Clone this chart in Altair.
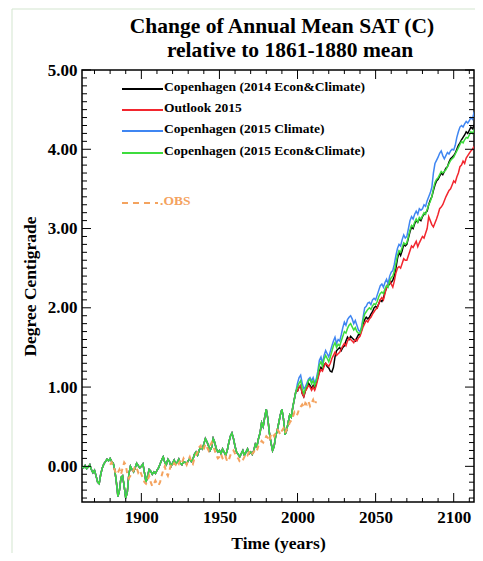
import altair as alt
import pandas as pd

# ---------------- data ----------------
title_lines = ["Change of Annual Mean SAT (C)", "relative to 1861-1880 mean"]
series_names = [
    "Copenhagen (2014 Econ&Climate)",
    "Outlook 2015",
    "Copenhagen (2015 Climate)",
    "Copenhagen (2015 Econ&Climate)",
]
series_colors = ["#000000", "#f2262e", "#3f86f2", "#3ddc3d"]
obs_name = ".OBS"
obs_color = "#f4a35f"

# shared model history 1862-1999
hist_years = list(range(1862, 2000))
hist_vals = [
    0.00, -0.02, 0.01, -0.03, -0.01, 0.02, -0.04, -0.08,
    -0.05, -0.12, -0.20, -0.22, -0.10, -0.02, 0.03, 0.06, 0.09, 0.07,
    0.10, 0.06, 0.04, -0.05, -0.20, -0.38, -0.30, -0.14, -0.12, -0.25,
    -0.40, -0.33, -0.10, 0.00, -0.04, -0.07, -0.02, 0.04, 0.01, -0.02,
    0.00, 0.03, -0.08, -0.20, -0.12, -0.04, -0.06, -0.10, -0.07, -0.09,
    -0.05, -0.02, 0.03, 0.08, 0.12, 0.05, 0.02, 0.09, 0.06, 0.00,
    0.04, 0.08, 0.03, 0.05, 0.09, 0.04, 0.02, 0.06, 0.05, 0.03,
    0.07, 0.10, 0.06, 0.09, 0.15, 0.18, 0.14, 0.20, 0.25, 0.22,
    0.28, 0.35, 0.31, 0.26, 0.20, 0.24, 0.35, 0.30, 0.22, 0.18,
    0.20, 0.16, 0.22, 0.18, 0.14, 0.20, 0.30, 0.38, 0.42, 0.35,
    0.25, 0.18, 0.15, 0.12, 0.16, 0.20, 0.14, 0.18, 0.22, 0.16,
    0.18, 0.15, 0.20, 0.28, 0.25, 0.35, 0.42, 0.55, 0.50, 0.62,
    0.72, 0.60, 0.42, 0.30, 0.20, 0.25, 0.38, 0.45, 0.55, 0.65,
    0.72, 0.60, 0.40, 0.45, 0.55, 0.65, 0.62, 0.75, 0.85, 0.95,
]

# projections 2000-2114
future_years = list(range(2000, 2115))
black_future = [
    0.95, 1.00, 1.02, 0.92, 0.88, 0.95, 1.00, 1.05, 1.02, 0.98,
    1.02, 0.98, 1.05, 1.12, 1.20, 1.25, 1.22, 1.28, 1.30, 1.26,
    1.24, 1.20, 1.19, 1.25, 1.38, 1.46, 1.48, 1.50, 1.46, 1.50,
    1.52, 1.58, 1.63, 1.60, 1.64, 1.62, 1.60, 1.58, 1.62, 1.66,
    1.66, 1.72, 1.80, 1.85, 1.88, 1.86, 1.88, 1.92, 1.95, 2.00,
    2.02, 2.00, 2.05, 2.10, 2.08, 2.12, 2.20, 2.25, 2.28, 2.30,
    2.32, 2.35, 2.40, 2.50, 2.62, 2.70, 2.66, 2.72, 2.80, 2.78,
    2.80, 2.88, 2.96, 3.02, 3.00, 3.06, 3.10, 3.08, 3.12, 3.10,
    3.15, 3.18, 3.20, 3.22, 3.30, 3.36, 3.40, 3.48, 3.55, 3.60,
    3.62, 3.66, 3.70, 3.68, 3.72, 3.76, 3.78, 3.84, 3.88, 3.90,
    3.92, 3.95, 4.00, 4.05, 4.08, 4.12, 4.15, 4.18, 4.22, 4.20,
    4.24, 4.28, 4.26, 4.30, 4.28,
]
red_future = [
    0.95, 1.00, 1.02, 0.92, 0.88, 0.95, 0.98, 1.02, 1.00, 0.96,
    1.00, 0.96, 1.02, 1.10, 1.18, 1.22, 1.20, 1.26, 1.30, 1.28,
    1.26, 1.30, 1.36, 1.40, 1.44, 1.40, 1.42, 1.44, 1.48, 1.52,
    1.55, 1.52, 1.58, 1.62, 1.60, 1.58, 1.56, 1.60, 1.58, 1.62,
    1.64, 1.70, 1.76, 1.80, 1.84, 1.82, 1.86, 1.88, 1.92, 1.95,
    1.98, 2.00, 2.05, 2.10, 2.13, 2.10, 2.18, 2.26, 2.30, 2.35,
    2.30, 2.26, 2.34, 2.44, 2.50, 2.52, 2.50, 2.56, 2.62, 2.60,
    2.60, 2.66, 2.72, 2.78, 2.76, 2.80, 2.84, 2.77, 2.82, 2.86,
    2.90, 2.88, 2.94, 3.00, 3.15, 3.10, 3.05, 3.02, 3.07, 3.12,
    3.18, 3.25, 3.27, 3.30, 3.35, 3.40, 3.44, 3.48, 3.50, 3.55,
    3.60, 3.58, 3.65, 3.70, 3.78, 3.80, 3.85, 3.82, 3.89, 3.92,
    3.95, 3.98, 4.00, 4.03, 4.00,
]
blue_future = [
    1.05, 1.12, 1.15, 1.05, 0.98, 1.00, 1.05, 1.10, 1.12, 1.08,
    1.12, 1.05, 1.10, 1.20, 1.34, 1.38, 1.30, 1.40, 1.46, 1.42,
    1.38, 1.45, 1.52, 1.58, 1.63, 1.55, 1.60, 1.58, 1.66, 1.75,
    1.82, 1.78, 1.85, 1.88, 1.90, 1.86, 1.80, 1.84, 1.78, 1.72,
    1.70, 1.76, 1.88, 2.00, 2.02, 2.06, 2.07, 2.04, 2.10, 2.12,
    2.10, 2.16, 2.22, 2.28, 2.30, 2.26, 2.32, 2.36, 2.30, 2.40,
    2.45, 2.47, 2.55, 2.66, 2.75, 2.80, 2.78, 2.86, 2.92, 2.88,
    2.90, 3.00, 3.10, 3.15, 3.12, 3.18, 3.22, 3.18, 3.25, 3.23,
    3.25, 3.30, 3.28, 3.35, 3.40, 3.45, 3.52, 3.70, 3.82, 3.86,
    3.90, 3.95, 3.98, 3.92, 3.88, 3.92, 3.96, 3.94, 3.98, 4.00,
    3.99, 4.05, 4.15, 4.22, 4.28, 4.30, 4.28, 4.32, 4.35, 4.33,
    4.36, 4.40, 4.38, 4.46, 4.44,
]
green_future = [
    1.00, 1.05, 1.08, 0.98, 0.92, 0.98, 1.02, 1.08, 1.10, 1.04,
    1.08, 1.02, 1.08, 1.16, 1.28, 1.32, 1.26, 1.35, 1.40, 1.36,
    1.32, 1.38, 1.45, 1.52, 1.56, 1.50, 1.54, 1.52, 1.58, 1.64,
    1.70, 1.68, 1.74, 1.78, 1.80, 1.76, 1.72, 1.75, 1.70, 1.68,
    1.68, 1.74, 1.84, 1.92, 1.95, 1.98, 2.00, 1.98, 2.02, 2.05,
    2.04, 2.08, 2.14, 2.18, 2.20, 2.18, 2.24, 2.28, 2.26, 2.34,
    2.38, 2.40, 2.46, 2.56, 2.66, 2.72, 2.70, 2.76, 2.82, 2.80,
    2.82, 2.90, 2.98, 3.04, 3.02, 3.08, 3.12, 3.08, 3.14, 3.12,
    3.16, 3.20, 3.18, 3.24, 3.30, 3.34, 3.40, 3.50, 3.58, 3.62,
    3.64, 3.68, 3.72, 3.70, 3.72, 3.74, 3.78, 3.82, 3.86, 3.88,
    3.90, 3.94, 3.98, 4.02, 4.06, 4.10, 4.08, 4.12, 4.15, 4.14,
    4.18, 4.22, 4.20, 4.24, 4.22,
]
future_list = [black_future, red_future, blue_future, green_future]

# observations 1880-2012
obs_years = list(range(1880, 2013))
obs_vals = [
    0.02, 0.05, 0.00, -0.05, -0.10, -0.08, -0.04, -0.10, -0.02, 0.05,
    0.02, -0.10, -0.15, -0.12, -0.08, -0.05, 0.00, -0.02, -0.08, -0.05,
    -0.10, -0.15, -0.20, -0.22, -0.18, -0.12, -0.20, -0.25, -0.22, -0.18,
    -0.22, -0.24, -0.20, -0.12, -0.05, 0.00, -0.08, -0.12, -0.05, 0.02,
    0.00, 0.04, 0.02, 0.06, 0.03, 0.08, 0.05, 0.10, 0.06, 0.02,
    0.08, 0.12, 0.06, 0.03, 0.10, 0.14, 0.18, 0.24, 0.26, 0.20,
    0.22, 0.28, 0.24, 0.20, 0.26, 0.30, 0.25, 0.20, 0.14, 0.10,
    0.12, 0.16, 0.10, 0.08, 0.12, 0.06, 0.08, 0.14, 0.18, 0.20,
    0.16, 0.12, 0.10, 0.06, 0.05, 0.08, 0.12, 0.16, 0.14, 0.18,
    0.20, 0.16, 0.18, 0.22, 0.20, 0.26, 0.28, 0.32, 0.30, 0.34,
    0.38, 0.36, 0.32, 0.40, 0.42, 0.38, 0.42, 0.46, 0.44, 0.40,
    0.45, 0.48, 0.42, 0.46, 0.50, 0.55, 0.58, 0.62, 0.68, 0.64,
    0.66, 0.72, 0.75, 0.78, 0.74, 0.80, 0.78, 0.82, 0.76, 0.80,
    0.84, 0.78, 0.82,
]

# axis ticks
x_major = [1900, 1950, 2000, 2050, 2100]
x_minor = [1870, 1880, 1890, 1910, 1920, 1930, 1940, 1960, 1970, 1980, 1990,
           2010, 2020, 2030, 2040, 2060, 2070, 2080, 2090, 2110]
y_major = [0, 1, 2, 3, 4, 5]
y_minor = [v / 10 for v in range(-4, 50) if v % 10 != 0]

x_domain = [1862, 2113]
y_domain = [-0.45, 5.0]

# ---------------- chart ----------------
W, H = 392, 432
PAD_L, PAD_T, PAD_R, PAD_B = 74, 62, 1, 51
SERIF = "Liberation Serif"

xs = alt.Scale(domain=x_domain, nice=False, zero=False)
ys = alt.Scale(domain=y_domain, nice=False, zero=False)

x_axis = alt.Axis(values=x_major, format="d", title="Time (years)", ticks=False,
                  domain=False, grid=False, labelFont=SERIF, labelFontSize=17,
                  labelFontWeight="bold", labelColor="black", labelPadding=7,
                  titleFont=SERIF, titleFontSize=17.5, titleFontWeight="bold",
                  titleColor="black", titlePadding=9)
y_axis = alt.Axis(values=y_major, format=".2f", title="Degree Centigrade",
                  ticks=False, domain=False, grid=False, labelFont=SERIF,
                  labelFontSize=17, labelFontWeight="bold", labelColor="black",
                  labelPadding=5, titleFont=SERIF, titleFontSize=17.5,
                  titleFontWeight="bold", titleColor="black", titlePadding=8)

X = lambda f: alt.X(f, type="quantitative", scale=xs, axis=x_axis)
Y = lambda f: alt.Y(f, type="quantitative", scale=ys, axis=y_axis)

layers = []
one = pd.DataFrame({"k": [0]})

# faint outer border of the figure
border = "#d3e5cf"
layers.append(alt.Chart(one).mark_rule(color=border, strokeWidth=1).encode(
    x=alt.value(12 - 8 - PAD_L), y=alt.value(9 - 8 - PAD_T),
    y2=alt.value(H + PAD_B)))
layers.append(alt.Chart(one).mark_rule(color=border, strokeWidth=1).encode(
    x=alt.value(12 - 8 - PAD_L), x2=alt.value(W + PAD_R),
    y=alt.value(9 - 8 - PAD_T)))

# two-line title
for txt, ty, tx in zip(title_lines, [-37, -13], [W / 2 + 4, W / 2 + 12]):
    layers.append(alt.Chart(one).mark_text(
        align="center", baseline="alphabetic", font=SERIF, fontSize=21.5,
        fontWeight="bold", color="black").encode(
        x=alt.value(tx), y=alt.value(ty), text=alt.value(txt)))

for name, color, fut in zip(series_names, series_colors, future_list):
    df = pd.DataFrame({"year": hist_years + future_years,
                       "value": hist_vals + fut})
    layers.append(
        alt.Chart(df).mark_line(color=color, strokeWidth=1.5, clip=True).encode(
            x=X("year"), y=Y("value"))
    )

obs_df = pd.DataFrame({"year": obs_years, "value": obs_vals})
layers.append(
    alt.Chart(obs_df).mark_line(color=obs_color, strokeWidth=2,
                                strokeDash=[5, 4], clip=True).encode(
        x=X("year"), y=Y("value"))
)

# inward ticks on all four sides
def xticks(vals, length):
    d = pd.DataFrame({"year": vals})
    bottom = alt.Chart(d).mark_rule(color="black", strokeWidth=1).encode(
        x=X("year"), y=alt.value(H), y2=alt.value(H - length))
    top = alt.Chart(d).mark_rule(color="black", strokeWidth=1).encode(
        x=X("year"), y=alt.value(0), y2=alt.value(length))
    return [bottom, top]

def yticks(vals, length):
    d = pd.DataFrame({"value": vals})
    left = alt.Chart(d).mark_rule(color="black", strokeWidth=1).encode(
        y=Y("value"), x=alt.value(0), x2=alt.value(length))
    right = alt.Chart(d).mark_rule(color="black", strokeWidth=1).encode(
        y=Y("value"), x=alt.value(W), x2=alt.value(W - length))
    return [left, right]

layers += xticks(x_major, 9) + xticks(x_minor, 4)
layers += yticks(y_major, 9) + yticks(y_minor, 5)

# legend drawn inside the plot
row_y = [19, 40, 61, 83]
for name, color, ry in zip(series_names, series_colors, row_y):
    layers.append(alt.Chart(one).mark_rule(color=color, strokeWidth=2.2).encode(
        x=alt.value(40), x2=alt.value(81), y=alt.value(ry)))
    layers.append(alt.Chart(one).mark_text(
        align="left", baseline="alphabetic", font=SERIF, fontSize=13.5,
        fontWeight="bold", color="black").encode(
        x=alt.value(82), y=alt.value(ry + 2), text=alt.value(name)))
layers.append(alt.Chart(one).mark_rule(color=obs_color, strokeWidth=2,
                                       strokeDash=[6, 5]).encode(
    x=alt.value(40), x2=alt.value(76), y=alt.value(133)))
layers.append(alt.Chart(one).mark_text(
    align="left", baseline="alphabetic", font=SERIF, fontSize=13.5,
    fontWeight="bold", color=obs_color).encode(
    x=alt.value(78), y=alt.value(135), text=alt.value(obs_name)))

chart = alt.layer(*layers).properties(
    width=W, height=H,
    background="white",
    autosize=alt.AutoSizeParams(type="none"),
    padding={"left": PAD_L, "top": PAD_T, "right": PAD_R, "bottom": PAD_B},
).configure_view(stroke="black", strokeWidth=1.5)

chart.save("out.html", embed_options={"renderer": "svg", "actions": False})
